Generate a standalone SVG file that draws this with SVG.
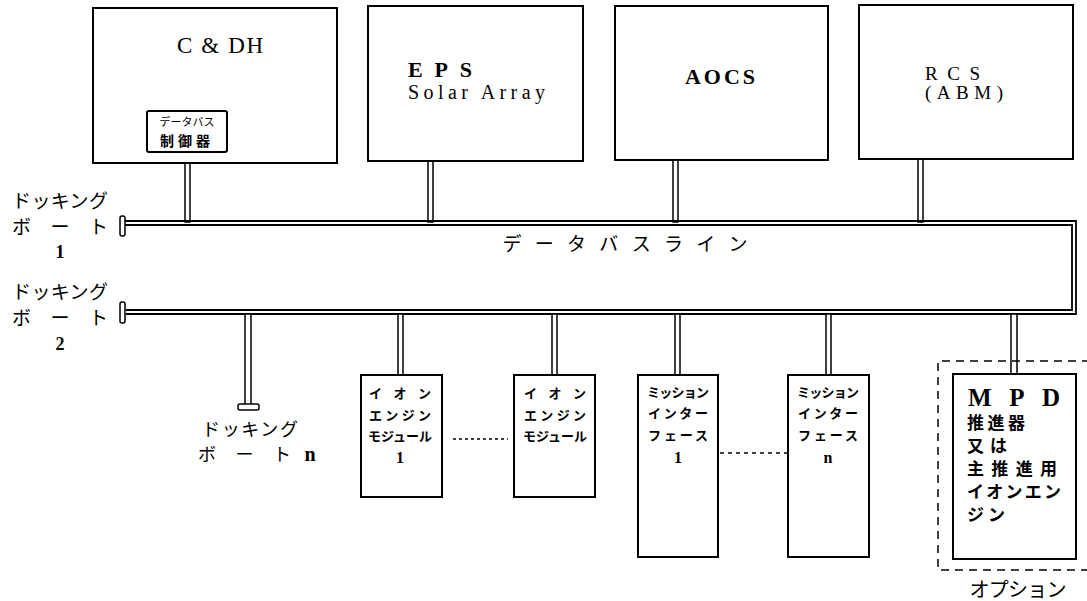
<svg xmlns="http://www.w3.org/2000/svg" width="1087" height="601" viewBox="0 0 1087 601">
<style>
.box{fill:#fff;stroke:#000;stroke-width:2}
.stub{fill:#fff;stroke:#000;stroke-width:1.5}
.bus{fill:none;stroke:#000;stroke-width:1.8}
.lat{font-family:"Liberation Serif","Times New Roman",serif;fill:#000}
.jp{font-family:"Noto Sans CJK JP","Noto Sans CJK SC",sans-serif;fill:#000}
.sm{font-size:13px;font-weight:bold;text-anchor:middle}
</style>
<rect width="1087" height="601" fill="#fff"/>
<g id="connectors">
<rect class="stub" x="185" y="152" width="5" height="70"/>
<rect class="stub" x="428" y="161" width="5" height="61"/>
<rect class="stub" x="673" y="160" width="5" height="62"/>
<rect class="stub" x="918" y="159" width="5" height="63"/>
<path class="bus" d="M124,221 H1076 V314 H126"/>
<path class="bus" d="M124,225 H1072 V310 H126"/>
<rect class="stub" x="120" y="216" width="5" height="20" rx="2"/>
<rect class="stub" x="120" y="302" width="5" height="21" rx="2"/>
<rect class="stub" x="245" y="314" width="6" height="91"/>
<rect class="stub" x="238" y="404" width="21" height="6" rx="2"/>
<rect class="stub" x="398" y="314" width="5" height="61"/>
<rect class="stub" x="552" y="314" width="5" height="61"/>
<rect class="stub" x="675" y="314" width="5" height="61"/>
<rect class="stub" x="826" y="314" width="5" height="61"/>
<rect class="stub" x="1011" y="314" width="6" height="60"/>
<line x1="453" y1="439" x2="508" y2="439" stroke="#000" stroke-width="1.3" stroke-dasharray="3,3"/>
<line x1="720" y1="453" x2="787" y2="453" stroke="#000" stroke-width="1.5" stroke-dasharray="4,4"/>
</g>
<g id="cdh">
<rect class="box" x="93" y="8" width="244" height="155"/>
<text class="lat" x="220" y="53" font-size="23" text-anchor="middle" textLength="86">C &amp; DH</text>
</g>
<g id="bus-controller">
<rect class="box" x="147" y="111" width="80" height="41" rx="2"/>
<text class="jp" x="187" y="126" font-size="11" text-anchor="middle">データバス</text>
<text class="jp" x="187" y="146" font-size="14" font-weight="bold" text-anchor="middle" letter-spacing="4">制御器</text>
</g>
<g id="eps">
<rect class="box" x="368" y="6" width="215" height="155"/>
<text class="lat" x="408" y="77" font-size="22" font-weight="bold" textLength="64">EPS</text>
<text class="lat" x="408" y="99" font-size="20" textLength="137">Solar Array</text>
</g>
<g id="aocs">
<rect class="box" x="615" y="6" width="213" height="154"/>
<text class="lat" x="720" y="84" font-size="22" font-weight="bold" text-anchor="middle" textLength="70">AOCS</text>
</g>
<g id="rcs">
<rect class="box" x="859" y="5" width="214" height="154"/>
<text class="lat" x="925" y="80" font-size="19" textLength="55">RCS</text>
<text class="lat" x="925" y="99" font-size="19" textLength="78">(ABM)</text>
</g>
<text class="jp" x="625" y="251" font-size="19" text-anchor="middle" textLength="245">データバスライン</text>
<g id="port1">
<text class="jp" x="60" y="208" font-size="19" text-anchor="middle" textLength="96">ドッキング</text>
<text class="jp" x="60" y="234" font-size="19" text-anchor="middle" textLength="96">ボート</text>
<text class="lat" x="60" y="258" font-size="18" font-weight="bold" text-anchor="middle">1</text>
</g>
<g id="port2">
<text class="jp" x="60" y="299" font-size="19" text-anchor="middle" textLength="96">ドッキング</text>
<text class="jp" x="60" y="325" font-size="19" text-anchor="middle" textLength="96">ボート</text>
<text class="lat" x="60" y="350" font-size="18" font-weight="bold" text-anchor="middle">2</text>
</g>
<g id="portn">
<text class="jp" x="250" y="436" font-size="18" text-anchor="middle" textLength="96">ドッキング</text>
<text class="jp" x="198" y="461" font-size="18" textLength="93">ボート</text>
<text class="lat" x="310" y="461" font-size="20" font-weight="bold" text-anchor="middle">n</text>
</g>
<g id="ion1">
<rect class="box" x="361" y="375" width="81" height="122"/>
<text class="jp sm" x="400" y="398" textLength="62">イオン</text>
<text class="jp sm" x="400" y="420" textLength="62">エンジン</text>
<text class="jp sm" x="400" y="441" textLength="64">モジュール</text>
<text class="lat" x="400" y="463" font-size="16" font-weight="bold" text-anchor="middle">1</text>
</g>
<g id="ion2">
<rect class="box" x="514" y="375" width="81" height="122"/>
<text class="jp sm" x="555" y="398" textLength="62">イオン</text>
<text class="jp sm" x="555" y="420" textLength="62">エンジン</text>
<text class="jp sm" x="555" y="441" textLength="64">モジュール</text>
</g>
<g id="mission1">
<rect class="box" x="638" y="375" width="80" height="182"/>
<text class="jp sm" x="678" y="397" textLength="62">ミッション</text>
<text class="jp sm" x="678" y="418" textLength="60">インター</text>
<text class="jp sm" x="678" y="440" textLength="60">フェース</text>
<text class="lat" x="678" y="463" font-size="16" font-weight="bold" text-anchor="middle">1</text>
</g>
<g id="missionn">
<rect class="box" x="788" y="375" width="81" height="182"/>
<text class="jp sm" x="828" y="397" textLength="62">ミッション</text>
<text class="jp sm" x="828" y="418" textLength="60">インター</text>
<text class="jp sm" x="828" y="440" textLength="60">フェース</text>
<text class="lat" x="828" y="463" font-size="16" font-weight="bold" text-anchor="middle">n</text>
</g>
<g id="mpd">
<path d="M1090,361 H938 V570 H1090" fill="none" stroke="#000" stroke-width="1.5" stroke-dasharray="8,6"/>
<rect class="box" x="953" y="374" width="123" height="185"/>
<text class="lat" x="968" y="406" font-size="25" font-weight="bold" textLength="92">MPD</text>
<text class="jp" x="967" y="429" font-size="17" font-weight="bold" textLength="58">推進器</text>
<text class="jp" x="967" y="452" font-size="17" font-weight="bold" textLength="40">又は</text>
<text class="jp" x="967" y="475" font-size="17" font-weight="bold" textLength="90">主推進用</text>
<text class="jp" x="967" y="498" font-size="17" font-weight="bold" textLength="94">イオンエン</text>
<text class="jp" x="967" y="521" font-size="17" font-weight="bold" textLength="38">ジン</text>
<text class="jp" x="1018" y="597" font-size="20" text-anchor="middle" textLength="97">オプション</text>
</g>
</svg>
